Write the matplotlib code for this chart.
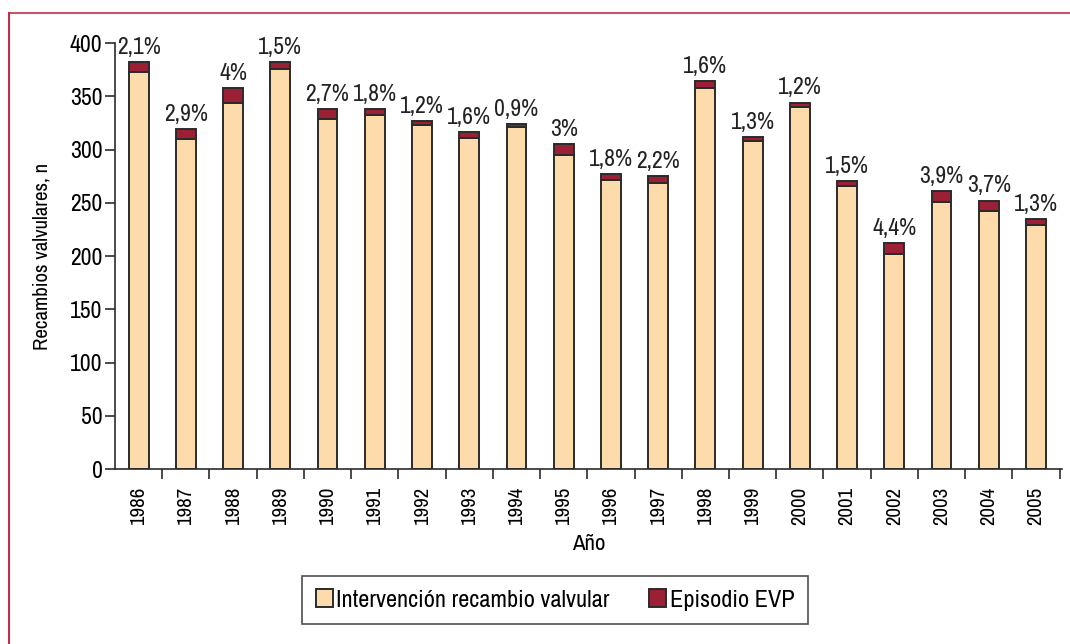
import numpy as np
import matplotlib
matplotlib.use('Agg')
import matplotlib.pyplot as plt
from matplotlib.lines import Line2D
from matplotlib import font_manager

# fuente estrecha si existe, si no Liberation Sans
nombres = {f.name for f in font_manager.fontManager.ttflist}
estrechas = sorted(n for n in nombres if 'Narrow' in n or 'Condensed' in n)
fuente = estrechas[0] if estrechas else 'Liberation Sans'
plt.rcParams['font.family'] = [fuente, 'DejaVu Sans']
k = 1.0 if estrechas else 0.82

years = ['1986', '1987', '1988', '1989', '1990', '1991', '1992', '1993', '1994', '1995',
         '1996', '1997', '1998', '1999', '2000', '2001', '2002', '2003', '2004', '2005']
intervencion = [373, 310, 344, 376, 329, 332, 323, 311, 321, 295,
                271, 269, 358, 308, 340, 266, 202, 251, 242, 229]
episodio = [9, 9, 14, 6, 9, 6, 4, 5, 3, 10,
            6, 6, 6, 4, 4, 4, 10, 10, 10, 6]
porcentajes = ['2,1%', '2,9%', '4%', '1,5%', '2,7%', '1,8%', '1,2%', '1,6%', '0,9%', '3%',
               '1,8%', '2,2%', '1,6%', '1,3%', '1,2%', '1,5%', '4,4%', '3,9%', '3,7%', '1,3%']

c_peach = '#FDDBAA'
c_red = '#9B1F35'
c_edge = '#2b2b2b'

fig = plt.figure(figsize=(10.7, 6.44), dpi=100)
ax = fig.add_axes([0.1075, 0.2717, 0.885, 0.6615])

x = np.arange(len(years))
w = 0.42
ax.bar(x, intervencion, w, color=c_peach, edgecolor=c_edge, linewidth=1.4,
       label='Intervención recambio valvular')
ax.bar(x, episodio, w, bottom=intervencion, color=c_red, edgecolor=c_edge, linewidth=1.4,
       label='Episodio EVP')

totales = np.array(intervencion) + np.array(episodio)
for xi, t, p in zip(x, totales, porcentajes):
    ax.annotate(p, (xi, t), xytext=(0, 3), textcoords='offset points',
                ha='center', va='bottom', fontsize=17 * k, color='#222222')

ax.set_xlim(-0.5, 19.55)
ax.set_ylim(0, 400)
ax.set_yticks(range(0, 401, 50))
ax.set_xticks(x)
ax.set_xticklabels(years, rotation=90, fontsize=15 * k)
ax.set_xticks(x + 0.5, minor=True)
ax.tick_params(axis='x', which='major', length=0, pad=13)
ax.tick_params(axis='x', which='minor', length=7, width=1.2, color=c_edge)
ax.tick_params(axis='y', length=7, width=1.2, color=c_edge, labelsize=17 * k, pad=2)

for s in ['top', 'right']:
    ax.spines[s].set_visible(False)
for s in ['left', 'bottom']:
    ax.spines[s].set_color(c_edge)
    ax.spines[s].set_linewidth(1.2)

ax.set_ylabel('Recambios valvulares, n', fontsize=15 * k, labelpad=13)
ax.set_xlabel('Año', fontsize=16.5 * k, labelpad=6)

leg = fig.legend(loc='center', bbox_to_anchor=(555 / 1070, 1 - 600 / 644), ncol=2,
                 fontsize=17.5 * k, frameon=True, fancybox=False, handlelength=0.7,
                 handleheight=0.7, handletextpad=0.15, columnspacing=1.6,
                 borderpad=0.55, borderaxespad=0)
leg.get_frame().set_edgecolor('#222222')
leg.get_frame().set_linewidth(1.2)

# marco del recuadro
fig.add_artist(Line2D([9 / 1070, 1.0], [1 - 13 / 644, 1 - 13 / 644],
                      transform=fig.transFigure, color='#C05868', lw=1.5))
fig.add_artist(Line2D([9 / 1070, 9 / 1070], [0, 1 - 13 / 644],
                      transform=fig.transFigure, color='#C03048', lw=1.5))

fig.savefig('out.png', dpi=100)
